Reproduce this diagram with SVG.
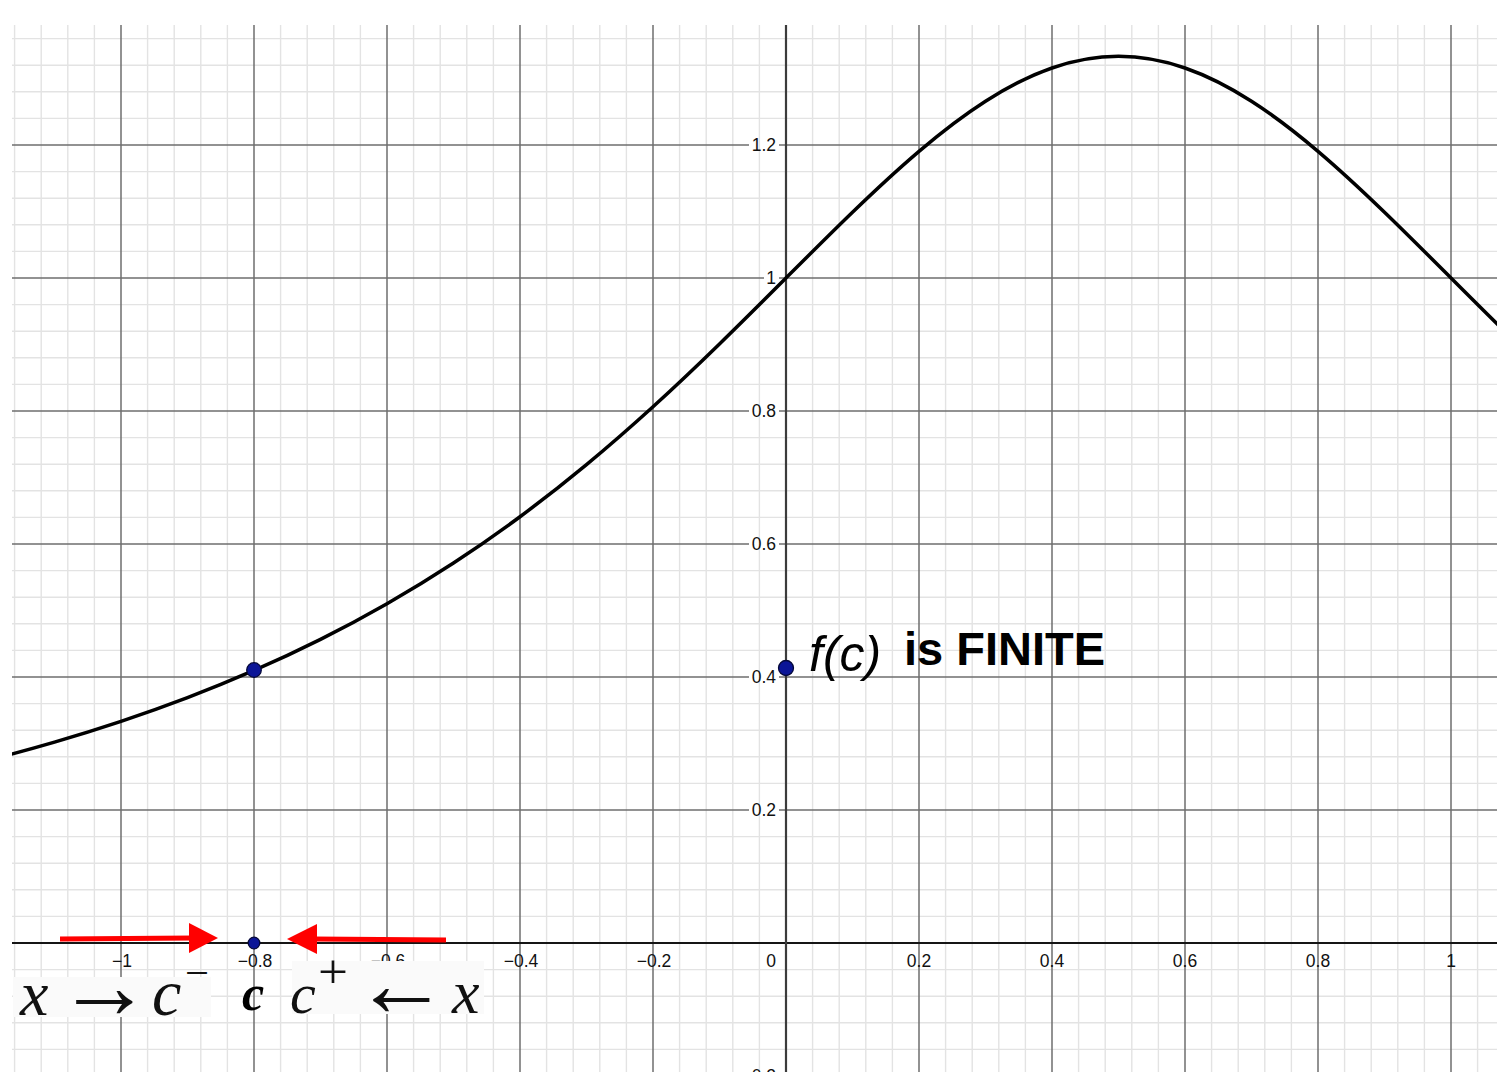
<svg xmlns="http://www.w3.org/2000/svg" width="1497" height="1080" viewBox="0 0 1497 1080">
<style>
.minor{stroke:#e3e3e3;stroke-width:1.4;fill:none}
.major{stroke:#6f6f6f;stroke-width:1.5;fill:none}
.ylbl{font-family:"Liberation Sans",Arial,sans-serif;font-size:17.5px;fill:#111;text-anchor:end}
.xlbl{font-family:"Liberation Sans",Arial,sans-serif;font-size:17.5px;fill:#111;text-anchor:middle}
.pt{fill:#0b1597;stroke:#05083a;stroke-width:1.3}
.math{font-family:"Liberation Serif","Times New Roman",serif;font-style:italic;fill:#111}
.arr{font-family:"Liberation Serif","DejaVu Serif",serif;fill:#111}
.red{fill:#ff0000;stroke:none}
.redl{stroke:#ff0000;stroke-width:5;fill:none}
</style>
<defs>
<clipPath id="plot"><rect x="12" y="25" width="1485" height="1047"/></clipPath>
</defs>
<rect width="1497" height="1080" fill="#ffffff"/>
<g id="grid" clip-path="url(#plot)">
<path class="minor" d="M14.6 25V1072M41.2 25V1072M67.8 25V1072M94.4 25V1072M147.6 25V1072M174.2 25V1072M200.8 25V1072M227.4 25V1072M280.6 25V1072M307.2 25V1072M333.8 25V1072M360.4 25V1072M413.6 25V1072M440.2 25V1072M466.8 25V1072M493.4 25V1072M546.6 25V1072M573.2 25V1072M599.8 25V1072M626.4 25V1072M679.6 25V1072M706.2 25V1072M732.8 25V1072M759.4 25V1072M812.6 25V1072M839.2 25V1072M865.8 25V1072M892.4 25V1072M945.6 25V1072M972.2 25V1072M998.8 25V1072M1025.4 25V1072M1078.6 25V1072M1105.2 25V1072M1131.8 25V1072M1158.4 25V1072M1211.6 25V1072M1238.2 25V1072M1264.8 25V1072M1291.4 25V1072M1344.6 25V1072M1371.2 25V1072M1397.8 25V1072M1424.4 25V1072M1477.6 25V1072"/>
<path class="minor" d="M12 1049.4H1497M12 1022.8H1497M12 996.2H1497M12 969.6H1497M12 916.4H1497M12 889.8H1497M12 863.2H1497M12 836.6H1497M12 783.4H1497M12 756.8H1497M12 730.2H1497M12 703.6H1497M12 650.4H1497M12 623.8H1497M12 597.2H1497M12 570.6H1497M12 517.4H1497M12 490.8H1497M12 464.2H1497M12 437.6H1497M12 384.4H1497M12 357.8H1497M12 331.2H1497M12 304.6H1497M12 251.4H1497M12 224.8H1497M12 198.2H1497M12 171.6H1497M12 118.4H1497M12 91.8H1497M12 65.2H1497M12 38.6H1497"/>
<path class="major" d="M121 25V1072M254 25V1072M387 25V1072M520 25V1072M653 25V1072M919 25V1072M1052 25V1072M1185 25V1072M1318 25V1072M1451 25V1072"/>
<path class="major" d="M12 810H749M779 810H1497M12 677H749M779 677H1497M12 544H749M779 544H1497M12 411H749M779 411H1497M12 278H764M779 278H1497M12 145H749M779 145H1497"/>
</g>
<g id="axes">
<path d="M12 943H1497" stroke="#151515" stroke-width="2.2" fill="none"/>
<path d="M786 25V1072" stroke="#3c3c3c" stroke-width="2.2" fill="none"/>
</g>
<g id="axis-labels">
<text class="xlbl" x="122" y="967">−1</text>
<text class="xlbl" x="255" y="967">−0.8</text>
<text class="xlbl" x="388" y="967">−0.6</text>
<text class="xlbl" x="521" y="967">−0.4</text>
<text class="xlbl" x="654" y="967">−0.2</text>
<text class="xlbl" x="771" y="967">0</text>
<text class="xlbl" x="919" y="967">0.2</text>
<text class="xlbl" x="1052" y="967">0.4</text>
<text class="xlbl" x="1185" y="967">0.6</text>
<text class="xlbl" x="1318" y="967">0.8</text>
<text class="xlbl" x="1451" y="967">1</text>
<text class="ylbl" x="776" y="151">1.2</text>
<text class="ylbl" x="776" y="284">1</text>
<text class="ylbl" x="776" y="417">0.8</text>
<text class="ylbl" x="776" y="550">0.6</text>
<text class="ylbl" x="776" y="683">0.4</text>
<text class="ylbl" x="776" y="816">0.2</text>
<g clip-path="url(#plot)"><text class="ylbl" x="776" y="1082">−0.2</text></g>
</g>
<g id="curve" clip-path="url(#plot)">
<path fill="none" stroke="#000" stroke-width="3.5" stroke-linejoin="round" d="M-12 760.31C10.17 754.62 32.33 748.56 54.5 742.09C76.67 735.62 98.83 728.72 121 721.33C143.17 713.94 165.33 706.06 187.5 697.61C209.67 689.16 231.830 680.14 254 670.46C276.17 660.78 298.33 650.44 320.5 639.35C342.67 628.26 364.83 616.4 387 603.71C409.17 591.02 431.33 577.48 453.5 563C475.67 548.52 497.83 533.12 520 516.72C542.17 500.33 564.33 482.94 586.5 464.58C608.67 446.22 630.83 426.89 653 406.71C675.17 386.53 697.33 365.49 719.5 343.9C741.67 322.31 763.83 300.17 786 278C808.17 255.83 830.33 233.65 852.5 212.23C874.67 190.82 896.83 170.18 919 151.33C941.17 132.48 963.33 115.44 985.5 101.23C1007.67 87.02 1029.83 75.68 1052 68C1074.17 60.33 1096.33 56.33 1118.5 56.33C1140.67 56.33 1162.83 60.33 1185 68C1207.17 75.68 1229.33 87.02 1251.5 101.23C1273.67 115.44 1295.83 132.48 1318 151.33C1340.17 170.18 1362.33 190.82 1384.5 212.23C1406.67 233.65 1428.83 255.83 1451 278C1473.17 300.17 1495.33 322.31 1517.5 343.9"/>
</g>
<g id="connectors">
<path class="redl" d="M60 939L193 938"/>
<polygon class="red" points="189,923 218,938 189,953"/>
<path class="redl" d="M314 939L446 940"/>
<polygon class="red" points="317,924 287,939 317,954"/>
</g>
<g id="point-curve"><circle class="pt" cx="254" cy="670" r="7.3"/></g>
<g id="point-fc"><circle class="pt" cx="786" cy="668" r="7.5"/></g>
<g id="point-c"><circle class="pt" cx="254" cy="943" r="5.8"/></g>
<g id="label-fc">
<text x="809" y="671" font-family="Liberation Sans,Arial,sans-serif" font-style="italic" font-size="50" fill="#000">f(c)</text>
<text x="904" y="665" font-family="Liberation Sans,Arial,sans-serif" font-weight="bold" font-size="47" fill="#000">is FINITE</text>
</g>
<g id="label-left">
<rect x="13" y="977" width="198" height="40" fill="#fafafa"/>
<text class="math" x="20" y="1015" font-size="64">x</text>
<text class="arr" x="57" y="1018" font-size="95">→</text>
<text class="math" x="152" y="1015" font-size="66">c</text>
<text class="arr" x="185" y="987" font-size="42" textLength="24" lengthAdjust="spacingAndGlyphs">−</text>
</g>
<g id="label-c">
<text x="242" y="1010" font-family="Liberation Serif,Times New Roman,serif" font-style="italic" font-weight="bold" font-size="50" fill="#000">c</text>
</g>
<g id="label-right">
<rect x="292" y="961" width="192" height="53" fill="#fafafa"/>
<text class="math" x="290" y="1013" font-size="58">c</text>
<text class="arr" x="318" y="988" font-size="48" textLength="30" lengthAdjust="spacingAndGlyphs">+</text>
<text class="arr" x="354" y="1016" font-size="95">←</text>
<text class="math" x="452" y="1013" font-size="62">x</text>
</g>
</svg>
